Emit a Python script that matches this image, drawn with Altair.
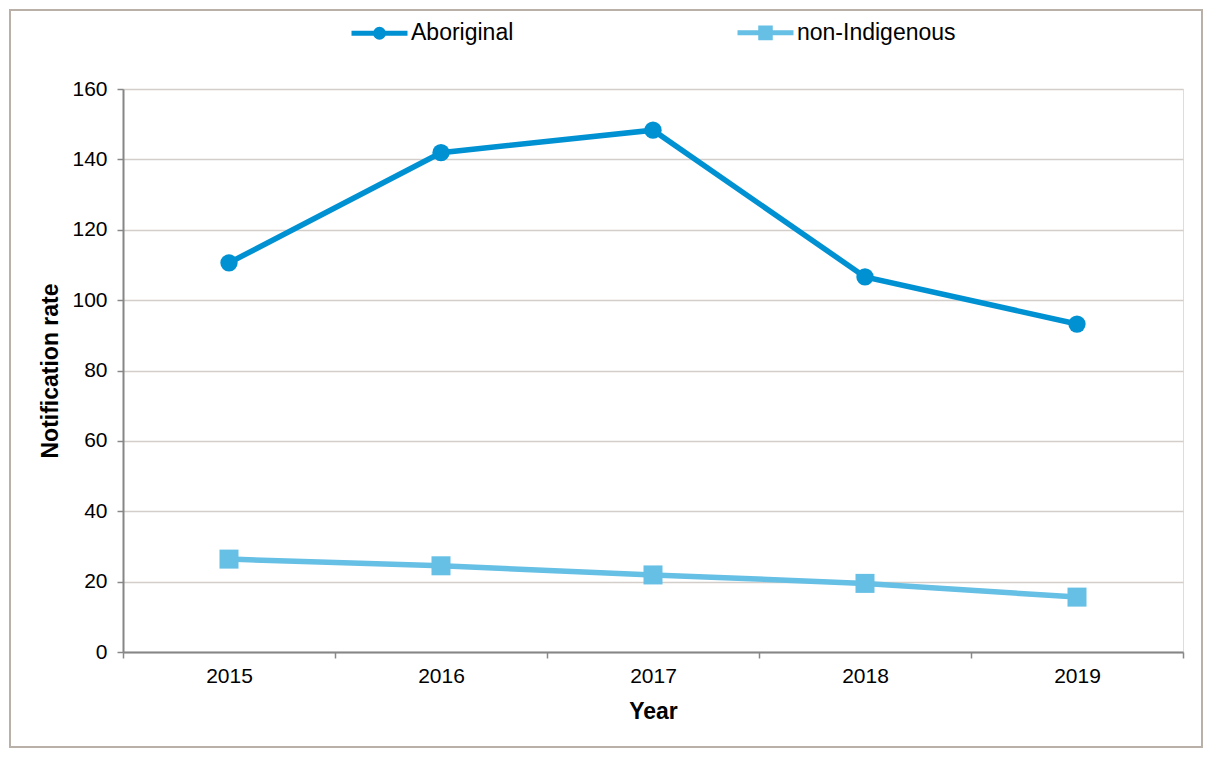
import altair as alt
import pandas as pd

years = ["2015", "2016", "2017", "2018", "2019"]
aboriginal = [110.6, 141.9, 148.3, 106.6, 93.2]
non_indigenous = [26.4, 24.5, 21.9, 19.5, 15.6]
series_names = ["Aboriginal", "non-Indigenous"]
series_colors = ["#0091D2", "#66BFE4"]

rows = []
for y, a, n in zip(years, aboriginal, non_indigenous):
    rows.append({"year": y, "series": series_names[0], "rate": a})
    rows.append({"year": y, "series": series_names[1], "rate": n})
df = pd.DataFrame(rows)

FONT = "Liberation Sans"

# legend glyphs: a line with a marker (path units: 1 = half the symbol width)
circle_path = ("M-1,0H1M-0.14,0A0.14,0.14,0,1,0,0.14,0A0.14,0.14,0,1,0,-0.14,0Z"
               "M-0.04,0A0.04,0.04,0,1,0,0.04,0A0.04,0.04,0,1,0,-0.04,0Z")
square_path = "M-1,0H1M-0.17,-0.17H0.17V0.17H-0.17ZM-0.06,-0.06H0.06V0.06H-0.06Z"

color_scale = alt.Scale(domain=series_names, range=series_colors)

legend_props = dict(
    title=None,
    orient="none",
    direction="horizontal",
    legendX=226,
    legendY=-87,
    padding=0,
    columnPadding=213,
    symbolSize=3136,
    symbolStrokeWidth=5,
    symbolOpacity=1,
    labelOffset=1,
    labelFont=FONT,
    labelFontSize=23,
    labelColor="black",
)

x_enc = alt.X(
    "year:O",
    scale=alt.Scale(type="band", paddingInner=0, paddingOuter=0, domain=years),
    bandPosition=0.5,
    axis=alt.Axis(
        title="Year",
        tickBand="extent",
        labelAngle=0,
        labelFont=FONT,
        labelFontSize=21,
        labelColor="black",
        labelPadding=7,
        tickSize=6,
        tickColor="#888888",
        tickWidth=1.5,
        domainColor="#868686",
        domainWidth=2,
        titleFont=FONT,
        titleFontSize=23,
        titleFontWeight="bold",
        titleColor="black",
        titlePadding=14,
        grid=False,
    ),
)

y_enc = alt.Y(
    "rate:Q",
    scale=alt.Scale(domain=[0, 160], nice=False, zero=True),
    axis=alt.Axis(
        title="Notification rate",
        values=[0, 20, 40, 60, 80, 100, 120, 140, 160],
        labelFont=FONT,
        labelFontSize=21,
        labelColor="black",
        labelPadding=10,
        tickSize=6,
        tickColor="#888888",
        tickWidth=1.5,
        domainColor="#868686",
        domainWidth=2,
        grid=True,
        gridColor="#D3CEC9",
        gridWidth=1.5,
        titleFont=FONT,
        titleFontSize=23,
        titleFontWeight="bold",
        titleColor="black",
        titlePadding=9,
    ),
)

color_plain = alt.Color("series:N", scale=color_scale, legend=None)

base = alt.Chart(df)

legend_layer = base.mark_point(filled=False, opacity=0.001).encode(
    x=x_enc,
    y=y_enc,
    color=alt.Color("series:N", scale=color_scale, legend=alt.Legend(**legend_props)),
    shape=alt.Shape(
        "series:N",
        scale=alt.Scale(domain=series_names, range=[circle_path, square_path]),
        legend=alt.Legend(**legend_props),
    ),
)

frame = alt.Chart(alt.Data(values=[{"k": 1}])).mark_rect(
    fillOpacity=0, stroke="#B9B0A7", strokeWidth=2
).encode(
    x=alt.value(-113), x2=alt.value(1079), y=alt.value(-79), y2=alt.value(658)
)

lines = base.mark_line(strokeWidth=5.5).encode(x=x_enc, y=y_enc, color=color_plain)

circles = base.transform_filter(alt.datum.series == series_names[0]).mark_point(
    shape="circle", filled=True, size=300, opacity=1
).encode(x=x_enc, y=y_enc, color=color_plain)

squares = base.transform_filter(alt.datum.series == series_names[1]).mark_point(
    shape="square", filled=True, size=361, opacity=1
).encode(x=x_enc, y=y_enc, color=color_plain)

chart = alt.layer(legend_layer, frame, lines, circles, squares).properties(
    width=1060,
    height=563,
    padding={"left": 115, "top": 81, "right": 21, "bottom": 96},
    autosize=alt.AutoSizeParams(type="none"),
).configure_view(
    stroke="#BDB5AD", strokeWidth=2
).configure(background="white")

chart.save("out.html", embed_options={"renderer": "svg", "actions": False})
